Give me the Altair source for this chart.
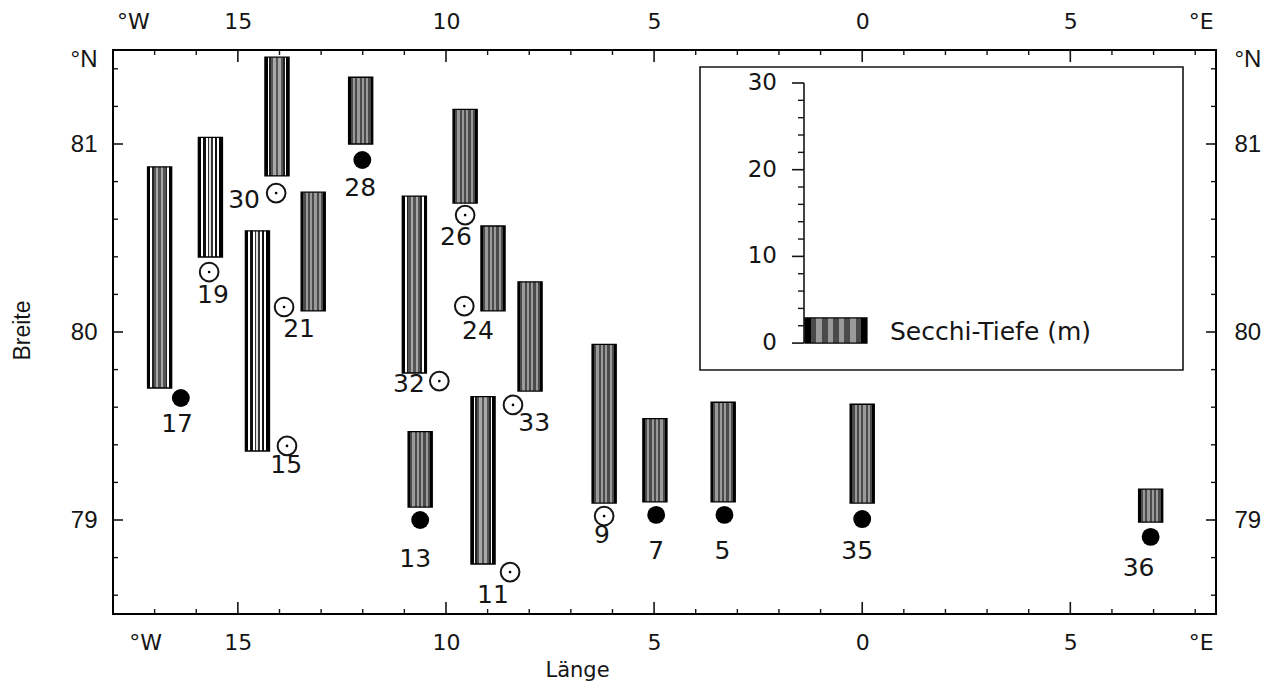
import altair as alt
import pandas as pd

# ---------------- data ----------------
station = [17, 19, 30, 15, 21, 28, 32, 26, 24, 33, 13, 11, 9, 7, 5, 35, 36]
marker = ['voll', 'offen', 'offen', 'offen', 'offen', 'voll', 'offen', 'offen', 'offen',
          'offen', 'voll', 'offen', 'offen', 'voll', 'voll', 'voll', 'voll']
st_lon = [-16.37, -15.69, -14.08, -13.82, -13.89, -12.01, -10.16, -9.54, -9.56,
          -8.39, -10.62, -8.46, -6.20, -4.95, -3.31, 0.00, 6.93]
st_lat = [79.649, 80.319, 80.739, 79.394, 80.133, 80.915, 79.739, 80.622, 80.138,
          79.612, 79.000, 78.723, 79.021, 79.027, 79.027, 79.005, 78.910]

# Secchi depth bars (bar base position and depth in m)
bar_lon = [-16.88, -15.66, -14.06, -14.53, -13.19, -12.05, -10.76, -9.54, -8.87,
           -7.98, -10.62, -9.11, -6.20, -4.98, -3.34, 0.00, 6.93]
bar_lat = [79.702, 80.399, 80.830, 79.367, 80.112, 81.000, 79.782, 80.686, 80.112,
           79.686, 79.069, 78.766, 79.090, 79.096, 79.096, 79.090, 78.989]
secchi = [25.5, 13.8, 13.7, 25.4, 13.7, 7.7, 20.4, 10.8, 9.8,
          12.6, 8.7, 19.3, 18.3, 9.6, 11.5, 11.4, 3.8]
muster = ['misch', 'streifen', 'misch', 'streifen', 'punkt', 'punkt', 'misch', 'punkt', 'punkt',
          'punkt', 'punkt', 'misch', 'punkt', 'punkt', 'punkt', 'punkt', 'punkt']

# station number label positions
lab_lon = [-16.46, -15.60, -14.85, -13.84, -13.53, -12.06, -10.89, -9.76, -9.23,
           -7.88, -10.74, -8.87, -6.25, -4.95, -3.36, -0.12, 6.64]
lab_lat = [79.511, 80.197, 80.702, 79.293, 80.016, 80.766, 79.723, 80.505, 80.005,
           79.516, 78.793, 78.601, 78.920, 78.835, 78.835, 78.835, 78.745]

# axis ticks
lat_ticks = [78.6, 78.8, 79.0, 79.2, 79.4, 79.6, 79.8, 80.0, 80.2, 80.4, 80.6, 80.8,
             81.0, 81.2, 81.4]
lon_ticks = [-17, -16, -15, -14, -13, -12, -11, -10, -9, -8, -7, -6, -5, -4, -3, -2,
             -1, 0, 1, 2, 3, 4, 5, 6, 7, 8]
bottom_vals = [-17.23, -15, -10, -5, 0, 5, 8.13]
top_vals = [-17.52, -15, -10, -5, 0, 5, 8.13]
lat_vals = [79, 80, 81, 81.45]

# inset scale
inset_major = [0, 10, 20, 30]
inset_minor = [2, 4, 6, 8, 12, 14, 16, 18, 22, 24, 26, 28]
swatch_m = 2.9
legend_text = 'Secchi-Tiefe (m)'

# ---------------- layout constants ----------------
W, H = 1103, 564
DEG_PER_M = 8.67 / 188.0
HALF_W = 0.29
INSET_BASE = 79.941
FONT = 'DejaVu Sans'
FONT2 = 'Liberation Sans'
INK = '#151515'

df_st = pd.DataFrame(dict(station=station, marker=marker, lon=st_lon, lat=st_lat,
                          lab_lon=lab_lon, lab_lat=lab_lat))
df_bar = pd.DataFrame(dict(station=station, lon=bar_lon, lat=bar_lat, secchi=secchi,
                           muster=muster))
one = pd.DataFrame({'k': [0]})

xs = alt.Scale(domain=[-18, 8.5], nice=False, zero=False)
ys = alt.Scale(domain=[78.5, 81.5], nice=False, zero=False)


def grad(stops):
    return alt.LinearGradient(gradient='linear',
                              stops=[alt.GradientStop(offset=o, color=c) for o, c in stops],
                              x1=0, x2=1, y1=0, y2=0)


def alt_stripes(a, b, c1, c2, n):
    out = []
    step = (b - a) / n
    for i in range(n):
        col = c1 if i % 2 == 0 else c2
        out += [(a + i * step, col), (a + (i + 1) * step, col)]
    return out


G = {
    'punkt': grad([(0, '#000'), (0.09, '#000')] + alt_stripes(0.09, 0.91, '#4a4a4a', '#9a9a9a', 9)
                  + [(0.91, '#000'), (1, '#000')]),
    'streifen': grad([(0, '#000'), (0.13, '#000'), (0.13, '#fff'), (0.21, '#fff'), (0.21, '#111'),
                      (0.31, '#111'), (0.31, '#fff'), (0.39, '#fff'), (0.39, '#333'), (0.46, '#333'),
                      (0.46, '#e0e0e0'), (0.54, '#e0e0e0'), (0.54, '#333'), (0.61, '#333'),
                      (0.61, '#fff'), (0.69, '#fff'), (0.69, '#111'), (0.79, '#111'), (0.79, '#fff'),
                      (0.87, '#fff'), (0.87, '#000'), (1, '#000')]),
    'misch': grad([(0, '#000'), (0.12, '#000'), (0.12, '#fff'), (0.18, '#fff'), (0.18, '#222'),
                   (0.25, '#222')] + alt_stripes(0.25, 0.75, '#555', '#a8a8a8', 5)
                  + [(0.75, '#222'), (0.82, '#222'), (0.82, '#fff'), (0.88, '#fff'),
                     (0.88, '#000'), (1, '#000')]),
}

LBL_EXPR_X = "datum.value < -16 ? '°W' : (datum.value > 7 ? '°E' : format(abs(datum.value), 'd'))"
LBL_EXPR_Y = "datum.value > 81.2 ? '°N' : format(datum.value, 'd')"

# ---------------- axes ----------------
x_bottom = alt.Axis(values=bottom_vals, orient='bottom', labelExpr=LBL_EXPR_X,
                    ticks=False, tickSize=0, domain=False, grid=False,
                    labelFont=FONT, labelFontSize=22, labelColor=INK, labelPadding=18,
                    labelFlush=False, labelOverlap=False,
                    title='Länge', titleFont=FONT, titleFontSize=21, titleFontWeight='normal',
                    titleColor=INK, titleX=464, titleY=56, titleBaseline='middle', titleAlign='center')
y_left = alt.Axis(values=lat_vals, orient='left', labelExpr=LBL_EXPR_Y,
                  ticks=False, tickSize=0, domain=False, grid=False,
                  labelFont=FONT2, labelFontSize=24, labelColor=INK, labelPadding=16,
                  labelFlush=False, labelOverlap=False,
                  title='Breite', titleFont=FONT2, titleFontSize=23, titleFontWeight='normal',
                  titleColor=INK, titleX=-91, titleY=280, titleBaseline='middle', titleAlign='center')
x_top = alt.Axis(values=top_vals, orient='top', labelExpr=LBL_EXPR_X,
                 ticks=False, tickSize=0, domain=False, grid=False,
                 labelFont=FONT, labelFontSize=22, labelColor=INK, labelPadding=17,
                 labelFlush=False, labelOverlap=False, title=None)
y_right = alt.Axis(values=lat_vals, orient='right', labelExpr=LBL_EXPR_Y,
                   ticks=False, tickSize=0, domain=False, grid=False,
                   labelFont=FONT2, labelFontSize=24, labelColor=INK, labelPadding=18,
                   labelFlush=False, labelOverlap=False, title=None)

axes_bl = alt.Chart(df_st).mark_point(opacity=0).encode(
    x=alt.X('lon:Q', scale=xs, axis=x_bottom),
    y=alt.Y('lat:Q', scale=ys, axis=y_left),
)
axes_tr = alt.Chart(df_st).mark_point(opacity=0).encode(
    x=alt.X('lon:Q', scale=xs, axis=x_top),
    y=alt.Y('lat:Q', scale=ys, axis=y_right),
)

# inward tick marks
latT = alt.Chart(pd.DataFrame({'lat': lat_ticks})).transform_calculate(
    major='abs(datum.lat - round(datum.lat)) < 0.01')
lonT = alt.Chart(pd.DataFrame({'lon': lon_ticks})).transform_calculate(
    major='datum.lon % 5 == 0')
Yt = alt.Y('lat:Q', scale=ys, axis=None)
Xt = alt.X('lon:Q', scale=xs, axis=None)
tick_layers = [
    latT.transform_filter('datum.major').mark_rule(color=INK, strokeWidth=1.6).encode(y=Yt, x=alt.value(0), x2=alt.value(10)),
    latT.transform_filter('!datum.major').mark_rule(color=INK, strokeWidth=1.4).encode(y=Yt, x=alt.value(0), x2=alt.value(5)),
    latT.transform_filter('datum.major').mark_rule(color=INK, strokeWidth=1.6).encode(y=Yt, x=alt.value(W - 10), x2=alt.value(W)),
    latT.transform_filter('!datum.major').mark_rule(color=INK, strokeWidth=1.4).encode(y=Yt, x=alt.value(W - 5), x2=alt.value(W)),
    lonT.transform_filter('datum.major').mark_rule(color=INK, strokeWidth=1.6).encode(x=Xt, y=alt.value(0), y2=alt.value(12)),
    lonT.transform_filter('!datum.major').mark_rule(color=INK, strokeWidth=1.4).encode(x=Xt, y=alt.value(0), y2=alt.value(5)),
    lonT.transform_filter('datum.major').mark_rule(color=INK, strokeWidth=1.6).encode(x=Xt, y=alt.value(H - 12), y2=alt.value(H)),
    lonT.transform_filter('!datum.major').mark_rule(color=INK, strokeWidth=1.4).encode(x=Xt, y=alt.value(H - 5), y2=alt.value(H)),
]

# ---------------- inset legend ----------------
inset_box = alt.Chart(one).mark_rect(fill='white', stroke=INK, strokeWidth=1.6).encode(
    x=alt.value(587), x2=alt.value(1070), y=alt.value(17), y2=alt.value(320))

inset_line = alt.Chart(pd.DataFrame({'lo': [inset_major[0]], 'hi': [inset_major[-1]]})).transform_calculate(
    a=f'{INSET_BASE} + datum.lo * {DEG_PER_M}', b=f'{INSET_BASE} + datum.hi * {DEG_PER_M}'
).mark_rule(color=INK, strokeWidth=1.6).encode(
    x=alt.value(691), y=alt.Y('a:Q', scale=ys, axis=None), y2='b:Q')

imaj = alt.Chart(pd.DataFrame({'m': inset_major})).transform_calculate(
    il=f'{INSET_BASE} + datum.m * {DEG_PER_M}')
imin = alt.Chart(pd.DataFrame({'m': inset_minor})).transform_calculate(
    il=f'{INSET_BASE} + datum.m * {DEG_PER_M}')
Yi = alt.Y('il:Q', scale=ys, axis=None)
inset_ticks_major = imaj.mark_rule(color=INK, strokeWidth=1.6).encode(y=Yi, x=alt.value(679), x2=alt.value(691))
inset_ticks_minor = imin.mark_rule(color=INK, strokeWidth=1.4).encode(y=Yi, x=alt.value(685), x2=alt.value(691))
inset_labels = imaj.mark_text(align='right', baseline='middle', font=FONT, fontSize=23, color=INK).encode(
    y=Yi, x=alt.value(664), text='m:Q')

swatch = alt.Chart(pd.DataFrame({'lo': [0], 'hi': [swatch_m]})).transform_calculate(
    a=f'{INSET_BASE} + datum.lo * {DEG_PER_M}', b=f'{INSET_BASE} + datum.hi * {DEG_PER_M}'
).mark_rect(fill=G['punkt'], stroke='black', strokeWidth=1.2).encode(
    x=alt.value(692), x2=alt.value(754), y=alt.Y('a:Q', scale=ys, axis=None), y2='b:Q')
legend_lbl = alt.Chart(one).mark_text(align='left', baseline='middle', font=FONT, fontSize=25, color=INK).encode(
    x=alt.value(777), y=alt.value(282), text=alt.value(legend_text))

# ---------------- bars ----------------
bar_base = alt.Chart(df_bar).transform_calculate(
    xa=f'datum.lon - {HALF_W}', xb=f'datum.lon + {HALF_W}',
    top=f'datum.lat + datum.secchi * {DEG_PER_M}')
bar_layers = [
    bar_base.transform_filter(f"datum.muster == '{s}'").mark_rect(fill=G[s], stroke='black', strokeWidth=1.3).encode(
        x=alt.X('xa:Q', scale=xs, axis=None), x2='xb:Q',
        y=alt.Y('lat:Q', scale=ys, axis=None), y2='top:Q')
    for s in ['punkt', 'streifen', 'misch']
]

# ---------------- station markers ----------------
st = alt.Chart(df_st)
Xs = alt.X('lon:Q', scale=xs, axis=None)
Ys = alt.Y('lat:Q', scale=ys, axis=None)
filled = st.transform_filter("datum.marker == 'voll'").mark_point(
    shape='circle', filled=True, size=320, color='black', opacity=1).encode(x=Xs, y=Ys)
openc = st.transform_filter("datum.marker == 'offen'").mark_point(
    shape='circle', filled=False, size=350, color=INK, strokeWidth=2, opacity=1).encode(x=Xs, y=Ys)
centre = st.transform_filter("datum.marker == 'offen'").mark_point(
    shape='circle', filled=True, size=7, color='black', opacity=1).encode(x=Xs, y=Ys)
labels = st.mark_text(font=FONT, fontSize=25, color=INK, align='center', baseline='middle').encode(
    x=alt.X('lab_lon:Q', scale=xs, axis=None), y=alt.Y('lab_lat:Q', scale=ys, axis=None),
    text='station:N')

content = alt.layer(*tick_layers, inset_box, inset_line, inset_ticks_major, inset_ticks_minor,
                    inset_labels, swatch, legend_lbl, *bar_layers, filled, openc, centre, labels)

chart = alt.layer(axes_bl, content, axes_tr).resolve_scale(x='independent', y='independent').properties(
    width=W, height=H,
    autosize=alt.AutoSizeParams(type='none'),
    padding={'left': 113, 'top': 50, 'right': 64, 'bottom': 71},
    background='white',
).configure_view(stroke='black', strokeWidth=2)

chart.save('out.html', embed_options={'renderer': 'svg', 'actions': False})
